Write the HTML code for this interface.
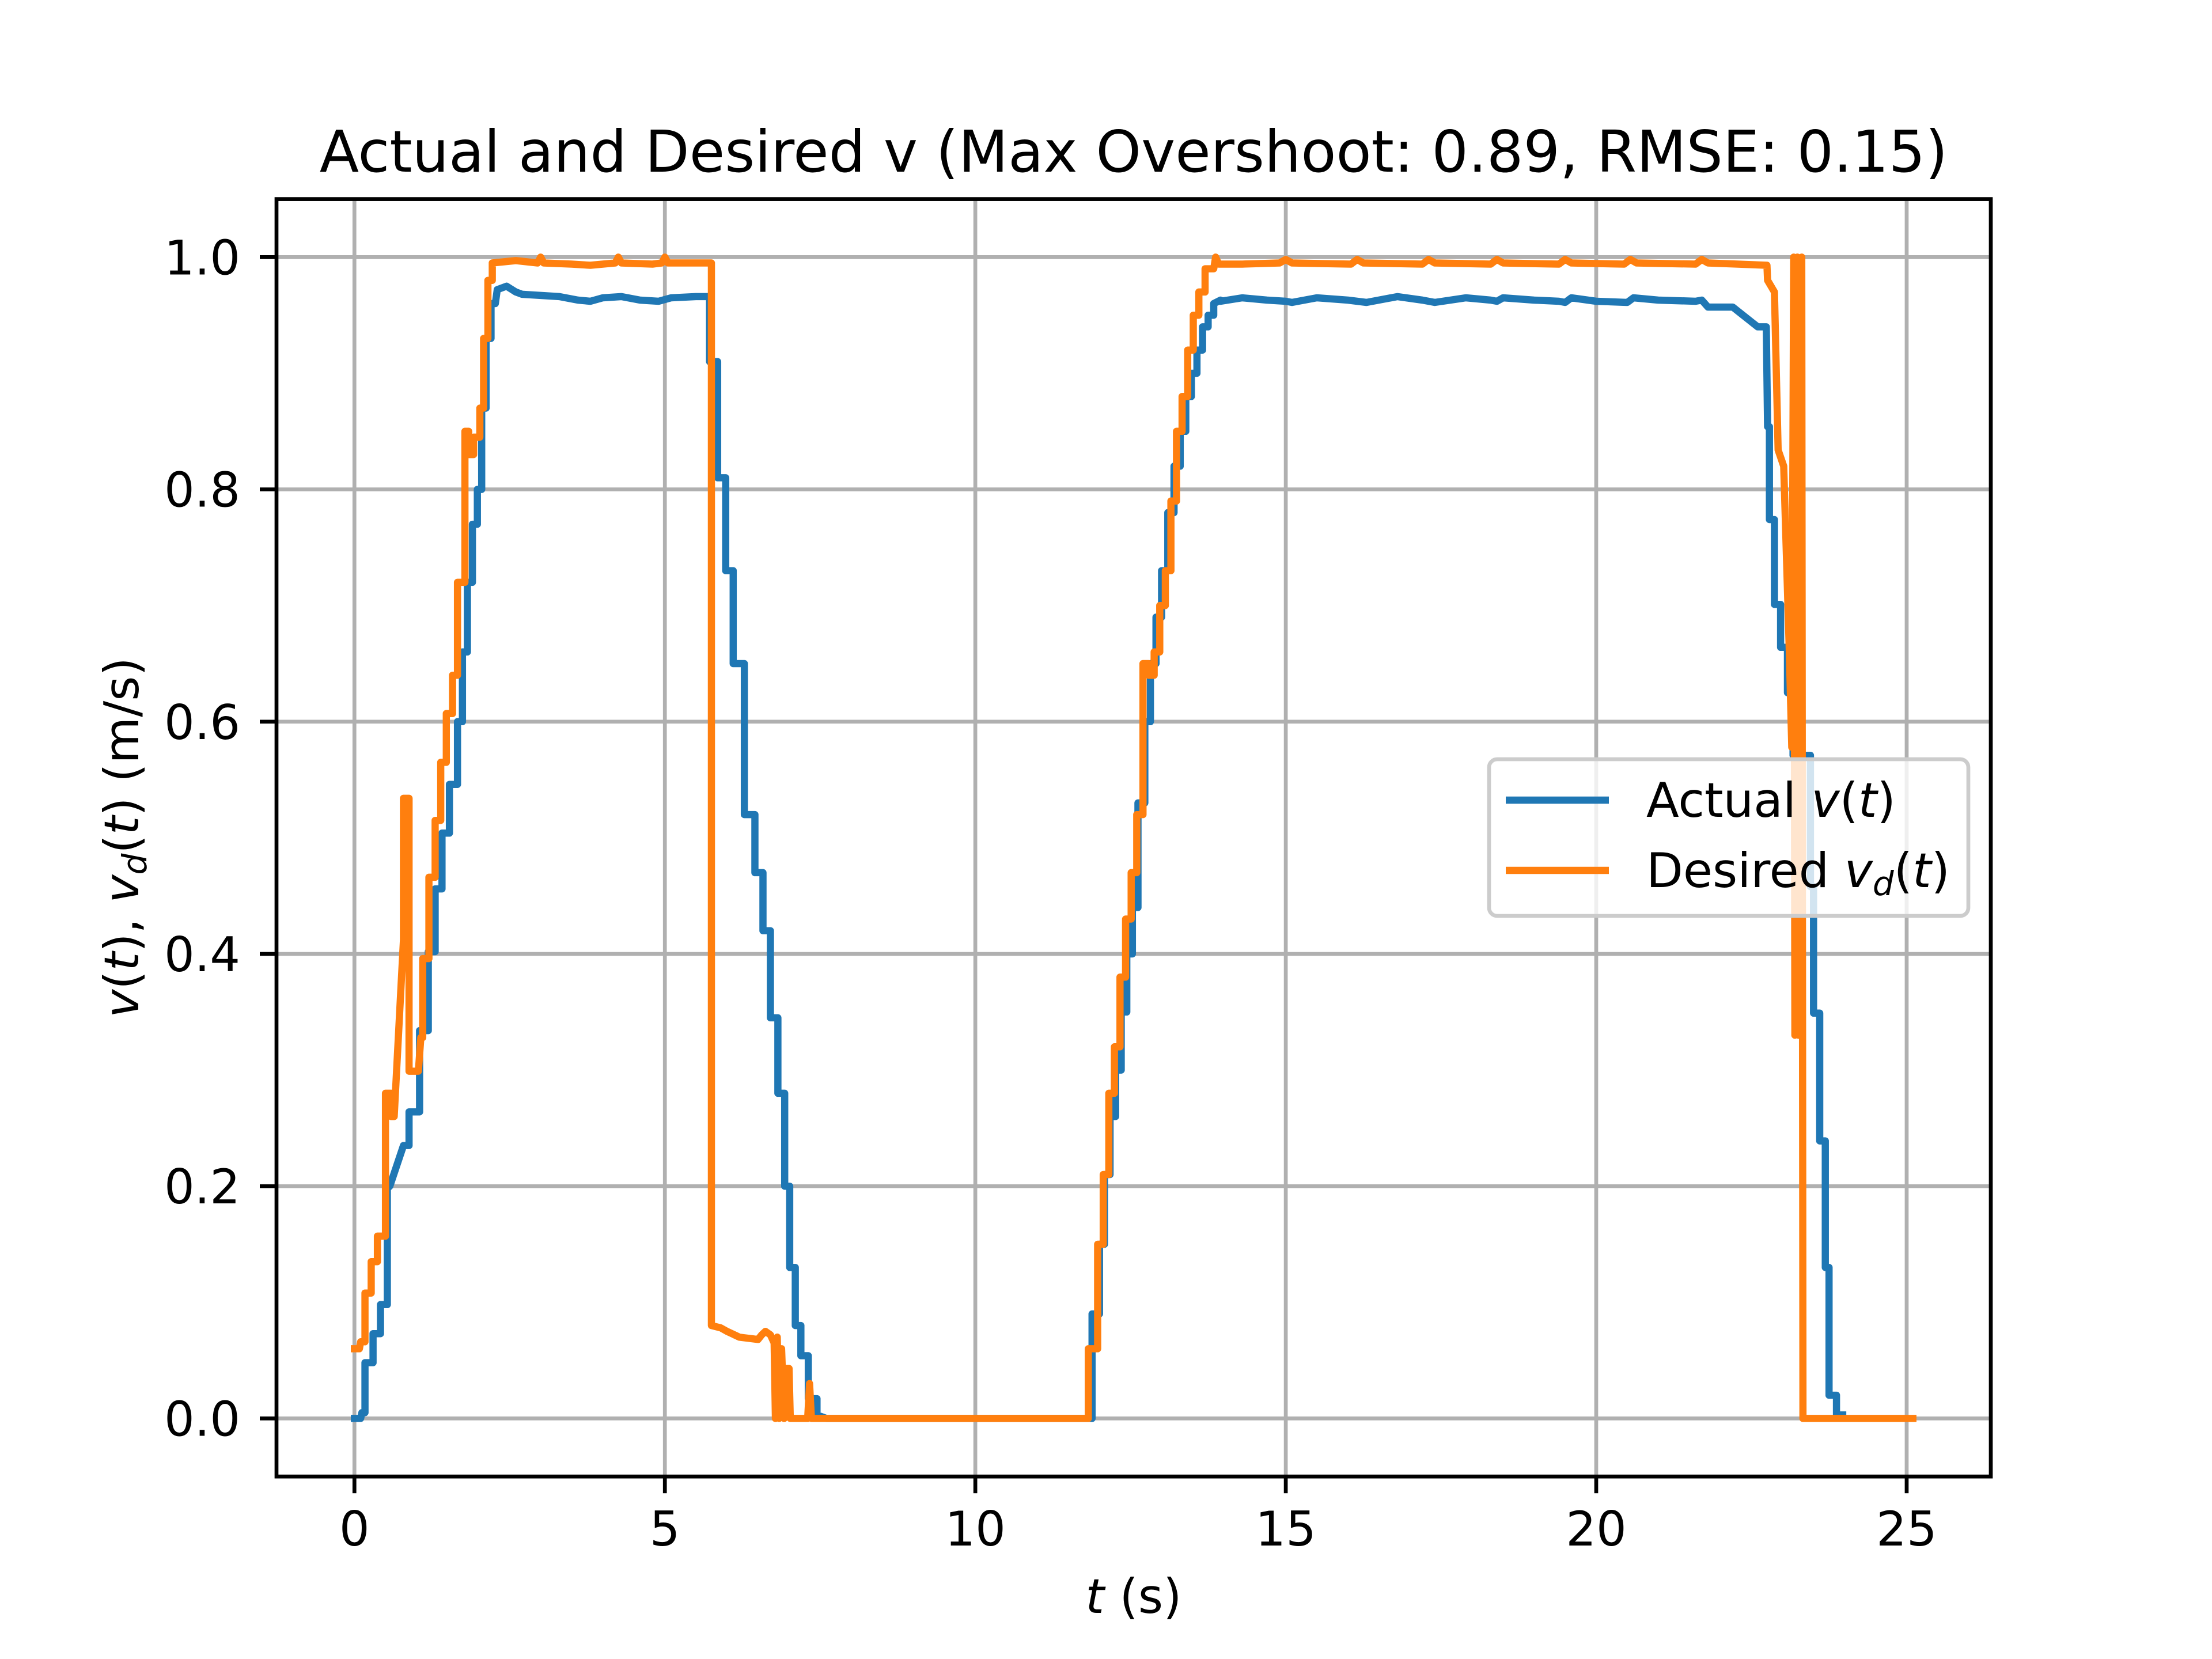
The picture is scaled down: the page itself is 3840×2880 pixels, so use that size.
<!DOCTYPE html>
<html><head><meta charset="utf-8"><style>
html,body{margin:0;padding:0;background:#fff;}
svg{display:block;}
text{font-family:"DejaVu Sans","Liberation Sans",sans-serif;fill:#000;}
</style></head><body>
<svg id="chart" width="3840" height="2880" viewBox="0 0 3840 2880" xmlns="http://www.w3.org/2000/svg">
<rect width="3840" height="2880" fill="#fff"/>
<g id="grid"></g>
<g id="series"></g>
<rect x="480" y="345.6" width="2976" height="2217.6" fill="none" stroke="#000" stroke-width="6.7"/>
<g id="ticks"></g>
<text x="1968" y="298" font-size="100" text-anchor="middle">Actual and Desired v (Max Overshoot: 0.89, RMSE: 0.15)</text>
<text x="1968" y="2800" font-size="83" text-anchor="middle"><tspan font-style="italic">t</tspan> (s)</text>
<text transform="translate(240,1454) rotate(-90)" font-size="83" text-anchor="middle"><tspan font-style="italic">v</tspan>(<tspan font-style="italic">t</tspan>), <tspan font-style="italic">v</tspan><tspan font-style="italic" font-size="58" dy="14">d</tspan><tspan dy="-14">(</tspan><tspan font-style="italic">t</tspan>) (m/s)</text>
<g>
<rect x="2585" y="1318" width="832" height="272" rx="14" fill="#fff" fill-opacity="0.8" stroke="#cccccc" stroke-width="6.7"/>
<line x1="2614" y1="1389" x2="2793" y2="1389" stroke="#1f77b4" stroke-width="12.5"/>
<text x="2858" y="1418" font-size="83">Actual <tspan font-style="italic">v</tspan>(<tspan font-style="italic">t</tspan>)</text>
<line x1="2614" y1="1511" x2="2793" y2="1511" stroke="#ff7f0e" stroke-width="12.5"/>
<text x="2858" y="1540" font-size="83">Desired <tspan font-style="italic">v</tspan><tspan font-style="italic" font-size="58" dy="14">d</tspan><tspan dy="-14">(</tspan><tspan font-style="italic">t</tspan>)</text>
</g>
</svg>
<script>
const xTicks=[0,5,10,15,20,25];
const yTicks=[0.0,0.2,0.4,0.6,0.8,1.0];
const yTickLabels=["0.0","0.2","0.4","0.6","0.8","1.0"];
const actualT=[0,0.1,0.12,0.17,0.17,0.3,0.3,0.42,0.42,0.53,0.53,0.57,0.79,0.88,0.88,1.05,1.05,1.19,1.19,1.3,1.3,1.41,1.41,1.53,1.53,1.66,1.66,1.74,1.74,1.82,1.82,1.9,1.9,1.98,1.98,2.05,2.05,2.12,2.12,2.2,2.2,2.27,2.3,2.45,2.6,2.7,3.0,3.3,3.6,3.8,4.0,4.3,4.6,4.9,5.1,5.5,5.72,5.72,5.85,5.85,5.98,5.98,6.1,6.1,6.28,6.28,6.45,6.45,6.58,6.58,6.7,6.7,6.82,6.82,6.93,6.93,7.01,7.01,7.1,7.1,7.19,7.19,7.31,7.31,7.45,7.45,7.6,11.88,11.88,12.0,12.0,12.08,12.08,12.17,12.17,12.26,12.26,12.35,12.35,12.44,12.44,12.53,12.53,12.62,12.62,12.73,12.73,12.82,12.82,12.91,12.91,13.0,13.0,13.1,13.1,13.2,13.2,13.3,13.3,13.39,13.39,13.48,13.48,13.57,13.57,13.66,13.66,13.75,13.75,13.84,13.84,13.95,13.95,14.3,14.7,15.0,15.1,15.5,16.0,16.15,16.3,16.8,17.2,17.3,17.4,17.9,18.3,18.4,18.5,19.0,19.4,19.5,19.6,20.0,20.5,20.6,21.0,21.6,21.7,21.8,22.2,22.6,22.74,22.76,22.79,22.79,22.87,22.87,22.97,22.97,23.08,23.08,23.17,23.17,23.45,23.45,23.5,23.5,23.6,23.6,23.69,23.69,23.75,23.75,23.87,23.87,23.97,23.97,24.08,24.1];
const actualV=[0,0,0.005,0.005,0.048,0.048,0.073,0.073,0.098,0.098,0.198,0.2,0.235,0.235,0.264,0.264,0.334,0.334,0.402,0.402,0.456,0.456,0.504,0.504,0.546,0.546,0.6,0.6,0.66,0.66,0.72,0.72,0.77,0.77,0.8,0.8,0.87,0.87,0.93,0.93,0.96,0.96,0.972,0.975,0.97,0.968,0.967,0.966,0.963,0.962,0.965,0.966,0.963,0.962,0.965,0.966,0.966,0.91,0.91,0.81,0.81,0.73,0.73,0.65,0.65,0.52,0.52,0.47,0.47,0.42,0.42,0.345,0.345,0.28,0.28,0.2,0.2,0.13,0.13,0.08,0.08,0.054,0.054,0.017,0.017,0.003,0,0,0.09,0.09,0.15,0.15,0.21,0.21,0.26,0.26,0.3,0.3,0.35,0.35,0.4,0.4,0.44,0.44,0.53,0.53,0.6,0.6,0.65,0.65,0.69,0.69,0.73,0.73,0.78,0.78,0.82,0.82,0.85,0.85,0.88,0.88,0.9,0.9,0.92,0.92,0.94,0.94,0.95,0.95,0.96,0.963,0.962,0.965,0.963,0.962,0.961,0.965,0.963,0.962,0.961,0.966,0.963,0.962,0.961,0.965,0.963,0.962,0.965,0.963,0.962,0.961,0.965,0.962,0.961,0.965,0.963,0.962,0.963,0.957,0.957,0.94,0.94,0.854,0.854,0.774,0.774,0.701,0.701,0.664,0.664,0.625,0.625,0.571,0.571,0.458,0.458,0.349,0.349,0.239,0.239,0.13,0.13,0.02,0.02,0.003,0.003];
const desiredT=[0,0.08,0.1,0.17,0.17,0.27,0.27,0.37,0.37,0.5,0.5,0.59,0.59,0.64,0.79,0.79,0.88,0.88,1.03,1.07,1.1,1.1,1.2,1.2,1.3,1.3,1.39,1.39,1.48,1.48,1.58,1.58,1.66,1.66,1.78,1.78,1.84,1.84,1.92,1.92,2.02,2.02,2.08,2.08,2.15,2.15,2.22,2.22,
2.6,2.95,3.0,3.05,3.5,3.8,4.2,4.25,4.3,4.8,4.95,5.0,5.05,5.75,5.75,
5.9,6.0,6.2,6.5,6.56,6.62,6.7,6.76,6.78,6.81,6.84,6.88,6.92,6.95,7.0,7.02,7.3,7.33,7.36,
11.82,11.82,11.97,11.97,12.06,12.06,12.15,12.15,12.24,12.24,12.33,12.33,12.42,12.42,12.51,12.51,12.6,12.6,12.7,12.7,12.79,12.79,12.88,12.88,12.97,12.97,13.06,13.06,13.15,13.15,13.24,13.24,13.33,13.33,13.42,13.42,13.51,13.51,
13.6,13.6,13.7,13.7,13.84,13.87,13.92,14.3,14.9,15.0,15.1,16.05,16.15,16.25,17.2,17.3,17.4,18.3,18.4,18.5,19.4,19.5,19.6,20.45,20.55,20.65,21.6,21.7,21.8,
22.75,22.76,22.87,22.93,23.02,23.11,23.15,23.18,23.2,23.24,23.26,23.29,23.31,23.33,25.1];
const desiredV=[0.06,0.06,0.066,0.066,0.108,0.108,0.135,0.135,0.157,0.157,0.28,0.28,0.26,0.26,0.412,0.534,0.534,0.299,0.299,0.328,0.328,0.396,0.396,0.466,0.466,0.515,0.515,0.565,0.565,0.607,0.607,0.64,0.64,0.72,0.72,0.85,0.85,0.83,0.83,0.845,0.845,0.87,0.87,0.93,0.93,0.98,0.98,0.995,
0.997,0.995,1.0,0.995,0.994,0.993,0.995,1.0,0.995,0.994,0.995,1.0,0.995,0.995,0.08,
0.078,0.075,0.07,0.068,0.072,0.075,0.072,0.065,0,0.07,0,0.06,0,0.043,0.043,0,0,0.03,0,
0,0.06,0.06,0.15,0.15,0.21,0.21,0.28,0.28,0.32,0.32,0.38,0.38,0.43,0.43,0.47,0.47,0.52,0.52,0.65,0.65,0.64,0.64,0.66,0.66,0.7,0.7,0.73,0.73,0.79,0.79,0.85,0.85,0.88,0.88,0.92,0.92,0.95,
0.95,0.97,0.97,0.99,0.99,1.0,0.994,0.994,0.995,0.998,0.995,0.994,0.998,0.995,0.994,0.998,0.995,0.994,0.998,0.995,0.994,0.998,0.995,0.994,0.998,0.995,0.994,0.998,0.995,
0.993,0.98,0.97,0.834,0.82,0.661,0.578,1.0,0.33,1.0,0.33,0.33,1.0,0,0];

const X0=480,X1=3456,Y0=345.6,Y1=2563.2,XMIN=-1.255,XMAX=26.355,YMIN=-0.05,YMAX=1.05;
function xs(t){return X0+(t-XMIN)/(XMAX-XMIN)*(X1-X0);}
function ys(v){return Y1-(v-YMIN)/(YMAX-YMIN)*(Y1-Y0);}
const NS="http://www.w3.org/2000/svg";
const grid=document.getElementById('grid'),ticks=document.getElementById('ticks'),series=document.getElementById('series');
function mk(tag,attrs,parent){const e=document.createElementNS(NS,tag);for(const k in attrs)e.setAttribute(k,attrs[k]);parent.appendChild(e);return e;}
xTicks.forEach(function(t){
  const g=mk('line',{x1:xs(t),x2:xs(t),y1:Y0,y2:Y1,stroke:'#b0b0b0','stroke-width':6.7},grid);
  
  
  const tk=mk('line',{x1:xs(t),x2:xs(t),y1:Y1,y2:Y1+29,stroke:'#000','stroke-width':6.7},ticks);
  
  
  const lb=mk('text',{x:xs(t),y:Y1+120,'font-size':83,'text-anchor':'middle'},ticks);
  lb.textContent=String(t);
  
  
});
yTicks.forEach(function(v,i){
  const g=mk('line',{x1:X0,x2:X1,y1:ys(v),y2:ys(v),stroke:'#b0b0b0','stroke-width':6.7},grid);
  
  
  const tk=mk('line',{x1:X0-29,x2:X0,y1:ys(v),y2:ys(v),stroke:'#000','stroke-width':6.7},ticks);
  
  
  const lb=mk('text',{x:417,y:ys(v)+30,'font-size':83,'text-anchor':'end'},ticks);
  lb.textContent=yTickLabels[i];
  
  
});
function pts(T,V){const n=Math.min(T.length,V.length);const out=[];for(let i=0;i<n;i++)out.push(xs(T[i]).toFixed(1)+','+ys(V[i]).toFixed(1));return out.join(' ');}
const la=mk('polyline',{points:pts(actualT,actualV),fill:'none',stroke:'#1f77b4','stroke-width':12.5,'stroke-linejoin':'round','stroke-linecap':'square'},series);


const ld=mk('polyline',{points:pts(desiredT,desiredV),fill:'none',stroke:'#ff7f0e','stroke-width':12.5,'stroke-linejoin':'round','stroke-linecap':'square'},series);


</script>
</body></html>
